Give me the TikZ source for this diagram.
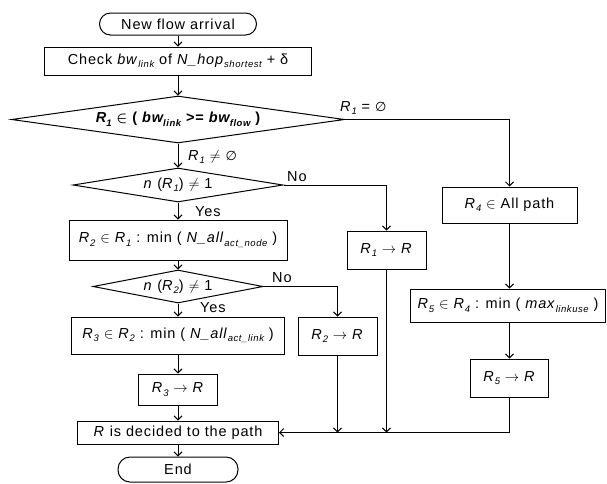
\documentclass[tikz,border=0pt]{standalone}
\usepackage{amsmath}
\usepackage{fontspec}
\setmainfont[LetterSpace=6]{Liberation Sans}
\newfontfamily\symf{DejaVu Sans}
\usetikzlibrary{shapes.geometric,arrows.meta}
\newcommand\lowsub[1]{\raisebox{-0.45ex}{\fontsize{9.5}{10}\selectfont\itshape #1}}
\newcommand\Rs[1]{\textit{R}\lowsub{#1}}
\newcommand\emp{{\symf\fontsize{13}{14}\selectfont ∅}}
\begin{document}
\begin{tikzpicture}[x=1pt,y=-1pt,
  every node/.style={font=\fontsize{14.5}{16}\selectfont, inner sep=0pt},
  box/.style={draw, line width=1pt, rectangle},
  term/.style={draw, line width=1pt, rectangle},
  dia/.style={draw, line width=1pt, diamond},
  lbl/.style={anchor=west},
  conn/.style={line width=1pt, -{Straight Barb[length=4pt,width=8pt,line width=1pt]}}]
\useasboundingbox (0,0) rectangle (607,483);
% main column
\node[term, rounded corners=11pt, minimum width=157pt, minimum height=22pt] (start) at (178,24) {New flow arrival};
\node[box, minimum width=267pt, minimum height=28pt] (check) at (178,61) {Check \textit{bw}\lowsub{link} of \textit{N\_hop}\lowsub{shortest} + δ};
\node[dia, shape aspect=7, minimum width=333pt, minimum height=47pt] (d1) at (178,119.5) {\bfseries\itshape R\lowsub{\bfseries 1} \upshape$\boldsymbol{\in}$ ( \itshape bw\lowsub{\bfseries link} \upshape >= \itshape bw\lowsub{\bfseries flow} \upshape )};
\node[dia, shape aspect=6, minimum width=210pt, minimum height=34pt] (d2) at (178,185) {\textit{n} (\Rs{1}) $\neq$ 1};
\node[box, minimum width=218pt, minimum height=40pt] (r2box) at (178,240) {\Rs{2} $\in$ \Rs{1} : min ( \textit{N\_all}\lowsub{act\_node} )};
\node[dia, shape aspect=5, minimum width=170pt, minimum height=33pt] (d3) at (178,286.5) {\textit{n} (\Rs{2}) $\neq$ 1};
\node[box, minimum width=213pt, minimum height=37pt] (r3box) at (178,335.5) {\Rs{3} $\in$ \Rs{2} : min ( \textit{N\_all}\lowsub{act\_link} )};
\node[box, minimum width=79pt, minimum height=31pt] (r3r) at (178,389.5) {\Rs{3} $\rightarrow$ \textit{R}};
\node[box, minimum width=201pt, minimum height=23pt] (dec) at (178,432.5) {\textit{R} is decided to the path};
\node[term, rounded corners=12pt, minimum width=120pt, minimum height=25pt] (end) at (178,469.5) {End};
% right side
\node[box, minimum width=135pt, minimum height=36pt] (r4) at (509.5,205) {\Rs{4} $\in$ All path};
\node[box, minimum width=79pt, minimum height=38pt] (r1r) at (386.5,250) {\Rs{1} $\rightarrow$ \textit{R}};
\node[box, minimum width=79pt, minimum height=38pt] (r2r) at (337.5,336) {\Rs{2} $\rightarrow$ \textit{R}};
\node[box, minimum width=195pt, minimum height=33pt] (r5) at (508,305.5) {\Rs{5} $\in$ \Rs{4} : min ( \textit{max}\lowsub{linkuse} )};
\node[box, minimum width=78pt, minimum height=38pt] (r5r) at (509.5,378) {\Rs{5} $\rightarrow$ \textit{R}};
% labels
\node[lbl] (l1) at (340,108) {\Rs{1} = \emp};
\node[lbl] (l2) at (188,157) {\Rs{1} $\neq$ \emp};
\node[lbl] (l3) at (287,177) {No};
\node[lbl] (l4) at (195,212) {Yes};
\node[lbl] (l5) at (272,278) {No};
\node[lbl] (l6) at (200,308) {Yes};
% connectors
\draw[conn] (start) -- (check);
\draw[conn] (check) -- (d1);
\draw[conn] (d1) -- (d2);
\draw[conn] (d2) -- (r2box);
\draw[conn] (r2box) -- (d3);
\draw[conn] (d3) -- (r3box);
\draw[conn] (r3box) -- (r3r);
\draw[conn] (r3r) -- (dec);
\draw[conn] (dec) -- (end);
\draw[conn] (d1.east) -| (r4.north);
\draw[conn] (d2.east) -| (r1r.north);
\draw[conn] (d3.east) -| (r2r.north);
\draw[conn] (r4) -- (r5.north -| r4.south);
\draw[conn] (r5.south -| r5r.north) -- (r5r);
\draw[conn] (r5r.south) |- (dec.east);
\draw[conn] (r1r.south) -- (r1r.south |- dec.east);
\draw[conn] (r2r.south) -- (r2r.south |- dec.east);
\end{tikzpicture}
\end{document}
